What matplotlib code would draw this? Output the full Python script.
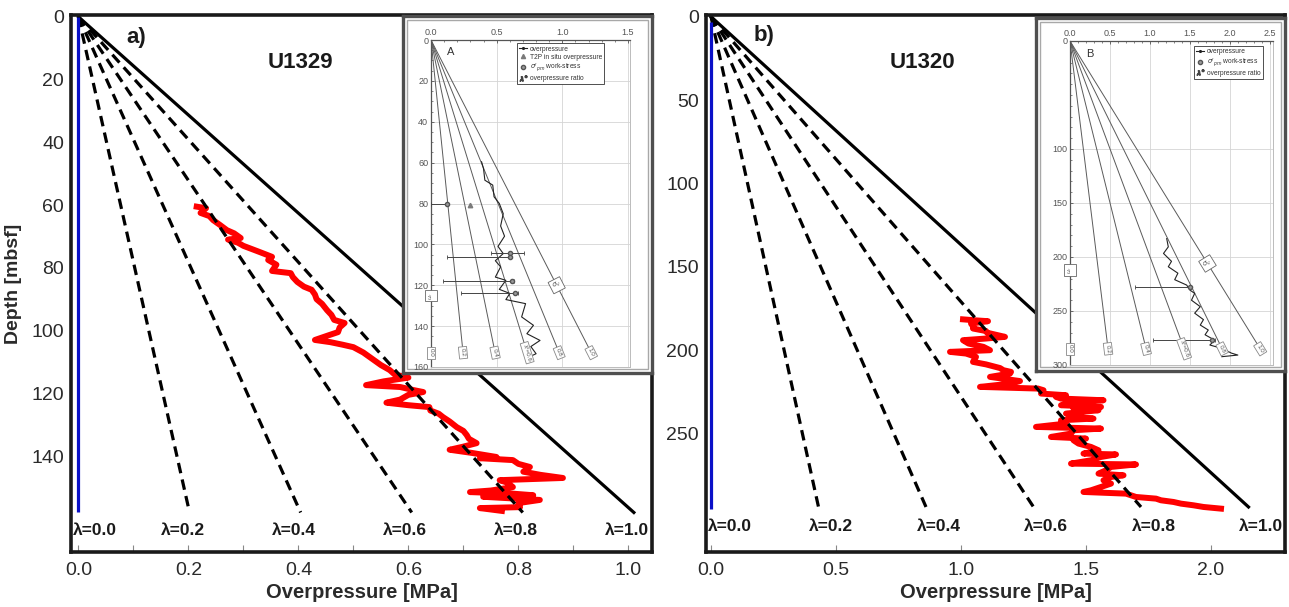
import numpy as np
import matplotlib
matplotlib.use("Agg")
import matplotlib.pyplot as plt
from matplotlib.lines import Line2D
from matplotlib.patches import Rectangle

plt.rcParams['font.family'] = ['Liberation Sans', 'DejaVu Sans']
plt.rcParams['mathtext.fontset'] = 'dejavusans'

W, H = 1289, 607
fig = plt.figure(figsize=(W / 100, H / 100), dpi=100)


def box(l, t, r, b):
    return [l / W, 1 - b / H, (r - l) / W, (b - t) / H]


# ------------------------------------------------------------------ data
lambdas = [0.0, 0.2, 0.4, 0.6, 0.8, 1.0]
lambda_labels = ['λ=0.0', 'λ=0.2', 'λ=0.4', 'λ=0.6', 'λ=0.8', 'λ=1.0']
inset_lambda_labels = ['0.0', '0.2', '0.4', 'λ*=0.6', '0.8', '1.0']

# ---- U1329 (panel a)
a_sigma_depth = [0, 158]          # depth of lambda = 1 profile
a_sigma = [0, 1.01]               # MPa
a_zero_depth = [0, 158]
a_red_depth = [60.5, 61.0, 62.5, 63.5, 64.8, 66.3, 68.0, 69.0, 70.5, 71.0, 72.0, 73.0, 74.0, 75.0,
               76.5, 77.5, 79.0, 81.0, 81.7, 83.0, 84.5, 86.0, 87.0, 88.5, 90.0, 91.5, 93.5, 95.0,
               96.6, 97.6, 99.0, 100.5, 101.5, 103.0, 103.7, 104.5, 105.3, 107.0, 108.5, 110.0,
               111.0, 112.6, 114.0, 115.0, 116.2, 117.4, 118.0, 119.0, 119.6, 120.5, 122.0, 123.0,
               123.8, 124.4, 125.5, 126.5, 127.6, 129.0, 130.8, 132.0, 133.3, 134.5, 135.9, 137.0,
               138.0, 139.0, 140.3, 140.7, 141.3, 142.5, 143.5, 145.0, 146.0, 147.0, 147.7, 148.5,
               149.9, 151.0, 151.5, 152.0, 152.5, 153.0, 154.0, 155.0, 156.3, 156.6, 157.5]
a_red_op = [0.215, 0.232, 0.222, 0.238, 0.245, 0.257, 0.270, 0.283, 0.295, 0.272, 0.290, 0.300,
            0.315, 0.330, 0.352, 0.345, 0.360, 0.352, 0.386, 0.390, 0.398, 0.410, 0.424, 0.430,
            0.433, 0.443, 0.452, 0.460, 0.465, 0.484, 0.475, 0.472, 0.455, 0.430, 0.458, 0.480,
            0.500, 0.518, 0.530, 0.542, 0.550, 0.566, 0.575, 0.600, 0.555, 0.523, 0.585, 0.610,
            0.627, 0.600, 0.585, 0.560, 0.600, 0.638, 0.640, 0.655, 0.663, 0.675, 0.688, 0.700,
            0.706, 0.710, 0.724, 0.700, 0.675, 0.715, 0.760, 0.730, 0.790, 0.800, 0.821, 0.809,
            0.840, 0.881, 0.766, 0.780, 0.790, 0.750, 0.712, 0.790, 0.827, 0.736, 0.839, 0.800,
            0.803, 0.730, 0.770]
a_xticks = [0.0, 0.2, 0.4, 0.6, 0.8, 1.0]
a_xminor = [0.1, 0.3, 0.5, 0.7, 0.9]
a_yticks = [0, 20, 40, 60, 80, 100, 120, 140]

# ---- U1320 (panel b)
b_sigma_depth = [0, 294]
b_sigma = [0, 2.15]
b_zero_depth = [3, 295]
b_red_depth = [181.5, 182.0, 182.6, 184.0, 186.0, 187.0, 188.5, 189.5, 192.0, 193.0, 194.0, 196.0,
               198.0, 200.0, 201.0, 202.0, 204.0, 207.0, 208.5, 210.7, 212.0, 213.0, 214.0, 216.0,
               218.5, 220.0, 222.0, 223.0, 224.0, 226.0, 227.0, 228.0, 229.0, 230.0, 231.0, 233.0,
               234.0, 235.0, 236.0, 238.0, 240.0, 241.0, 242.0, 244.0, 246.0, 247.0, 248.0, 250.0,
               252.0, 253.0, 254.0, 256.0, 258.0, 260.0, 262.0, 262.5, 264.0, 266.0, 268.0, 268.5,
               270.0, 272.0, 274.0, 275.0, 276.0, 278.0, 280.0, 282.0, 284.0, 285.0, 286.0, 288.0,
               289.0, 290.0, 291.0, 292.0, 293.0, 294.0, 295.0]
b_red_op = [1.008, 1.05, 1.108, 1.04, 1.05, 1.048, 1.10, 1.104, 1.176, 1.10, 1.008, 1.03, 1.09,
            1.116, 0.956, 1.02, 1.06, 1.048, 1.10, 1.156, 1.17, 1.20, 1.196, 1.116, 1.236, 1.20,
            1.076, 1.308, 1.33, 1.32, 1.42, 1.38, 1.40, 1.57, 1.45, 1.40, 1.56, 1.45, 1.55, 1.42,
            1.45, 1.53, 1.40, 1.42, 1.30, 1.56, 1.45, 1.44, 1.36, 1.50, 1.45, 1.47, 1.52, 1.55,
            1.49, 1.62, 1.56, 1.52, 1.44, 1.70, 1.60, 1.58, 1.55, 1.65, 1.60, 1.57, 1.60, 1.56,
            1.52, 1.49, 1.66, 1.70, 1.78, 1.80, 1.85, 1.88, 1.93, 1.97, 2.04]
b_xticks = [0.0, 0.5, 1.0, 1.5, 2.0]
b_xminor = []
b_yticks = [0, 50, 100, 150, 200, 250]

# ---- inset A (original figure, U1329)
A_sigma_depth = [0, 153]
A_sigma = [0, 1.22]
A_op_depth = [59.6, 63, 68.6, 71, 76.7, 80, 85, 91, 96, 101, 104.5, 108, 111, 116, 117.6, 122,
              124, 127, 129, 135.5, 139.6, 143.7, 147, 150, 153.5, 155]
A_op = [0.385, 0.40, 0.41, 0.47, 0.48, 0.52, 0.55, 0.53, 0.56, 0.51, 0.55, 0.49, 0.53, 0.49, 0.57,
        0.52, 0.60, 0.57, 0.72, 0.69, 0.78, 0.73, 0.83, 0.76, 0.80, 0.75]
A_ws_depth = [80, 104, 106, 118, 124]
A_ws = [0.12, 0.60, 0.60, 0.62, 0.64]
A_ws_lo = [0.00, 0.46, 0.12, 0.09, 0.23]
A_ws_hi = [0.12, 0.71, 0.60, 0.63, 0.66]
A_t2p_depth = [80.5]
A_t2p = [0.30]
A_xticks = [0.0, 0.5, 1.0, 1.5]
A_yticks = [0, 20, 40, 60, 80, 100, 120, 140, 160]

# ---- inset B (original figure, U1320)
B_sigma_depth = [0, 285]
B_sigma = [0, 2.38]
B_op_depth = [183, 190.6, 196.7, 204, 209, 215, 221, 226, 230.6, 233.7, 240, 246, 252, 258, 263,
              267.6, 272, 277, 281.5, 284.6, 289, 290.8, 292.3]
B_op = [1.21, 1.23, 1.17, 1.27, 1.23, 1.35, 1.31, 1.46, 1.50, 1.56, 1.52, 1.63, 1.56, 1.67, 1.63,
        1.73, 1.69, 1.81, 1.75, 1.90, 2.02, 2.10, 1.90]
B_ws_depth = [228, 277]
B_ws = [1.50, 1.78]
B_ws_lo = [0.81, 1.04]
B_ws_hi = [1.52, 1.81]
B_xticks = [0.0, 0.5, 1.0, 1.5, 2.0, 2.5]
B_yticks = [0, 100, 150, 200, 250, 300]


# ------------------------------------------------------------------ main panels
def main_panel(px, xlim, ylim, sig_d, sig, zero_d, red_d, red_x, xticks, xminor, yticks,
               lab_depth, lab_off, ylabel=None):
    ax = fig.add_axes(box(*px), zorder=0)
    sig_d = np.asarray(sig_d, float)
    sig = np.asarray(sig, float)
    ax.plot(red_x, red_d, color='#ff0000', lw=4.3, solid_joinstyle='round', zorder=1)
    ax.plot([0, 0], zero_d, color='#0a10c8', lw=2.3, solid_capstyle='butt', zorder=3)
    for lam in lambdas[1:-1]:
        ax.plot(lam * sig, sig_d, color='black', lw=2.3, dashes=(3.3, 2.0), zorder=2)
    ax.plot(sig, sig_d, color='black', lw=2.3, zorder=2)
    for lam, lab in zip(lambdas, lambda_labels):
        if lam == 0:
            ax.text(xlim[0] + 0.004 * (xlim[1] - xlim[0]), lab_depth, lab, ha='left', va='center',
                    fontsize=12.5, fontweight='bold', color='#1a1a1a')
        else:
            ax.text(lam * sig[-1] + lab_off, lab_depth, lab, ha='center', va='center',
                    fontsize=12.5, fontweight='bold', color='#1a1a1a')
    ax.set_xlim(*xlim)
    ax.set_ylim(*ylim)
    ax.set_xticks(xticks)
    ax.set_xticklabels([f'{v:.1f}' for v in xticks])
    ax.set_xticks(xminor, minor=True)
    ax.set_yticks(yticks)
    ax.tick_params(axis='x', which='both', direction='in', length=5, width=0.8, color='#888888',
                   labelsize=14, labelcolor='#2a2a2a', pad=7)
    ax.tick_params(axis='y', which='both', length=0, labelsize=14, labelcolor='#2a2a2a', pad=5)
    for s in ax.spines.values():
        s.set_linewidth(2.6)
        s.set_color('#1a1a1a')
    ax.set_xlabel('Overpressure [MPa]', fontsize=14.5, fontweight='bold', color='#2a2a2a')
    ax.xaxis.set_label_coords(0.5, -0.058)
    if ylabel:
        ax.set_ylabel(ylabel, fontsize=14, fontweight='bold', color='#2a2a2a')
        ax.yaxis.set_label_coords(-0.084, 0.5)
    return ax


ax_a = main_panel((71, 15, 652, 552), (-0.0136, 1.043), (170.6, -0.6), a_sigma_depth, a_sigma,
                  a_zero_depth, a_red_depth, a_red_op, a_xticks, a_xminor, a_yticks, 163.8, -0.012,
                  ylabel='Depth [mbsf]')
ax_b = main_panel((706, 15, 1285, 552), (-0.02, 2.296), (321, -1), b_sigma_depth, b_sigma,
                  b_zero_depth, b_red_depth, b_red_op, b_xticks, b_xminor, b_yticks, 306, 0.05)

fig.text(136 / W, 1 - 37 / H, 'a)', fontsize=16, fontweight='bold', ha='center', va='center',
         color='#1a1a1a')
fig.text(300 / W, 1 - 62 / H, 'U1329', fontsize=16, fontweight='bold', ha='center', va='center',
         color='#1a1a1a')
fig.text(764 / W, 1 - 35 / H, 'b)', fontsize=16, fontweight='bold', ha='center', va='center',
         color='#1a1a1a')
fig.text(922 / W, 1 - 62 / H, 'U1320', fontsize=16, fontweight='bold', ha='center', va='center',
         color='#1a1a1a')


# ------------------------------------------------------------------ insets
def inset(frame_px, ax_px, xlim, ylim, xticks, xminor, yticks, yminor, sig_d, sig, op_d, op_x,
          ws_d, ws_x, ws_lo, ws_hi, t2p_d, t2p_x, tag, tag_pos, sv_depth, uc_depth, handles,
          leg_anchor):
    l, t, r, b = frame_px
    bx = fig.add_axes(box(l, t, r, b), zorder=5)
    bx.set_facecolor('white')
    bx.set_xticks([])
    bx.set_yticks([])
    for s in bx.spines.values():
        s.set_linewidth(2.4)
        s.set_color('#4f4f4f')
    wpx, hpx = r - l, b - t
    bx.add_patch(Rectangle((4 / wpx, 4 / hpx), 1 - 8 / wpx, 1 - 8 / hpx, transform=bx.transAxes,
                           fill=False, ec='#a8a8a8', lw=1.0))

    ix = fig.add_axes(box(*ax_px), zorder=6)
    ix.set_facecolor('none')
    ix.set_xlim(*xlim)
    ix.set_ylim(*ylim)
    ix.xaxis.tick_top()
    ix.set_xticks(xticks)
    ix.set_xticklabels([f'{v:.1f}' for v in xticks])
    ix.set_xticks(xminor, minor=True)
    ix.set_yticks(yticks)
    ix.set_yticks(yminor, minor=True)
    ix.tick_params(which='major', direction='in', length=2.5, width=0.6, colors='#555555',
                   labelsize=6.5, pad=2)
    ix.tick_params(which='minor', direction='in', length=1.5, width=0.5, colors='#555555')
    ix.grid(True, which='major', color='#d4d4d4', lw=0.6)
    ix.set_axisbelow(True)
    for k, s in ix.spines.items():
        if k in ('top', 'left'):
            s.set_color('#555555')
            s.set_linewidth(0.9)
        else:
            s.set_color('#bbbbbb')
            s.set_linewidth(0.7)

    sig_d = np.asarray(sig_d, float)
    sig = np.asarray(sig, float)
    for lam, lab in zip(lambdas, inset_lambda_labels):
        ix.plot(lam * sig, sig_d, color='#5a5a5a', lw=0.7, ls=(0, (4, 1)) if lam == 0 else '-',
                zorder=2)
        p0 = ix.transData.transform((0, 0))
        p1 = ix.transData.transform((lam * sig[-1], sig_d[-1]))
        ang = np.degrees(np.arctan2(p1[1] - p0[1], p1[0] - p0[0]))
        ix.text(lam * sig[-1], sig_d[-1], lab, rotation=ang, rotation_mode='anchor',
                ha='center', va='center', fontsize=4.5, color='#555555', zorder=4,
                bbox=dict(boxstyle='square,pad=0.25', fc='white', ec='#888888', lw=0.6))
    # sigma_v label on lambda = 1 line
    p0 = ix.transData.transform((0, 0))
    p1 = ix.transData.transform((sig[-1], sig_d[-1]))
    ang = np.degrees(np.arctan2(p1[1] - p0[1], p1[0] - p0[0]))
    ix.text(sig[-1] * sv_depth / sig_d[-1], sv_depth, r'$\sigma_v$', rotation=ang + 90,
            ha='center', va='center', fontsize=5, color='#555555', zorder=4,
            bbox=dict(boxstyle='square,pad=0.25', fc='white', ec='#666666', lw=0.6))
    ix.text(0, uc_depth, r'$u_c$', ha='center', va='center', fontsize=4.5, color='#555555',
            rotation=90, zorder=4, clip_on=False,
            bbox=dict(boxstyle='square,pad=0.25', fc='white', ec='#666666', lw=0.6))

    ix.plot(op_x, op_d, color='#222222', lw=0.8, zorder=3)
    ws_x = np.asarray(ws_x)
    xerr = [ws_x - np.asarray(ws_lo), np.asarray(ws_hi) - ws_x]
    ix.errorbar(ws_x, ws_d, xerr=xerr, fmt='o', color='#444444', mfc='#9a9a9a', mec='#555555',
                ms=3, lw=0.7, capsize=1.5, capthick=0.6, zorder=3)
    if t2p_x:
        ix.plot(t2p_x, t2p_d, ls='none', marker='^', color='#7a7a7a', ms=3.2, zorder=3)
    ix.text(*tag_pos, tag, fontsize=8, color='#333333', ha='left', va='center')
    leg = ix.legend(handles=handles, loc='upper right', bbox_to_anchor=leg_anchor, fontsize=4.8,
                    frameon=True, fancybox=False, framealpha=1, edgecolor='#333333',
                    borderpad=0.35, labelspacing=0.15, handlelength=1.2, handletextpad=0.4,
                    borderaxespad=0.0)
    leg.get_frame().set_linewidth(0.6)
    for txt in leg.get_texts():
        txt.set_color('#333333')
    return ix


h_op = Line2D([], [], color='#222222', lw=0.8, marker='.', ms=2.5, label='overpressure')
h_t2p = Line2D([], [], ls='none', marker='^', color='#7a7a7a', ms=3, label='T2P in situ overpressure')
h_ws = Line2D([], [], ls='none', marker='o', mfc='#9a9a9a', mec='#555555', ms=3,
              label=r"$\sigma'_{pm}$ work-stress")
h_lam = Line2D([], [], ls='none', marker=r'$\lambda^*$', color='#444444', ms=5,
               label='overpressure ratio')

inset((403, 16, 652, 373), (431, 40, 630, 367), (0, 1.515), (160, 0), A_xticks,
      list(np.arange(0.1, 1.5, 0.1)), A_yticks, list(range(5, 160, 5)), A_sigma_depth, A_sigma,
      A_op_depth, A_op, A_ws_depth, A_ws, A_ws_lo, A_ws_hi, A_t2p_depth, A_t2p, 'A', (0.12, 6),
      120, 125, [h_op, h_t2p, h_ws, h_lam], (0.87, 0.99))

inset((1036, 18, 1285, 371), (1070, 41, 1273, 365), (0, 2.54), (300, 0), B_xticks,
      list(np.arange(0.1, 2.5, 0.1)), B_yticks, list(range(10, 300, 10)), B_sigma_depth, B_sigma,
      B_op_depth, B_op, B_ws_depth, B_ws, B_ws_lo, B_ws_hi, [], [], 'B', (0.2, 12),
      206, 212, [h_op, h_ws, h_lam], (0.95, 0.985))

fig.savefig('out.png', dpi=100)
